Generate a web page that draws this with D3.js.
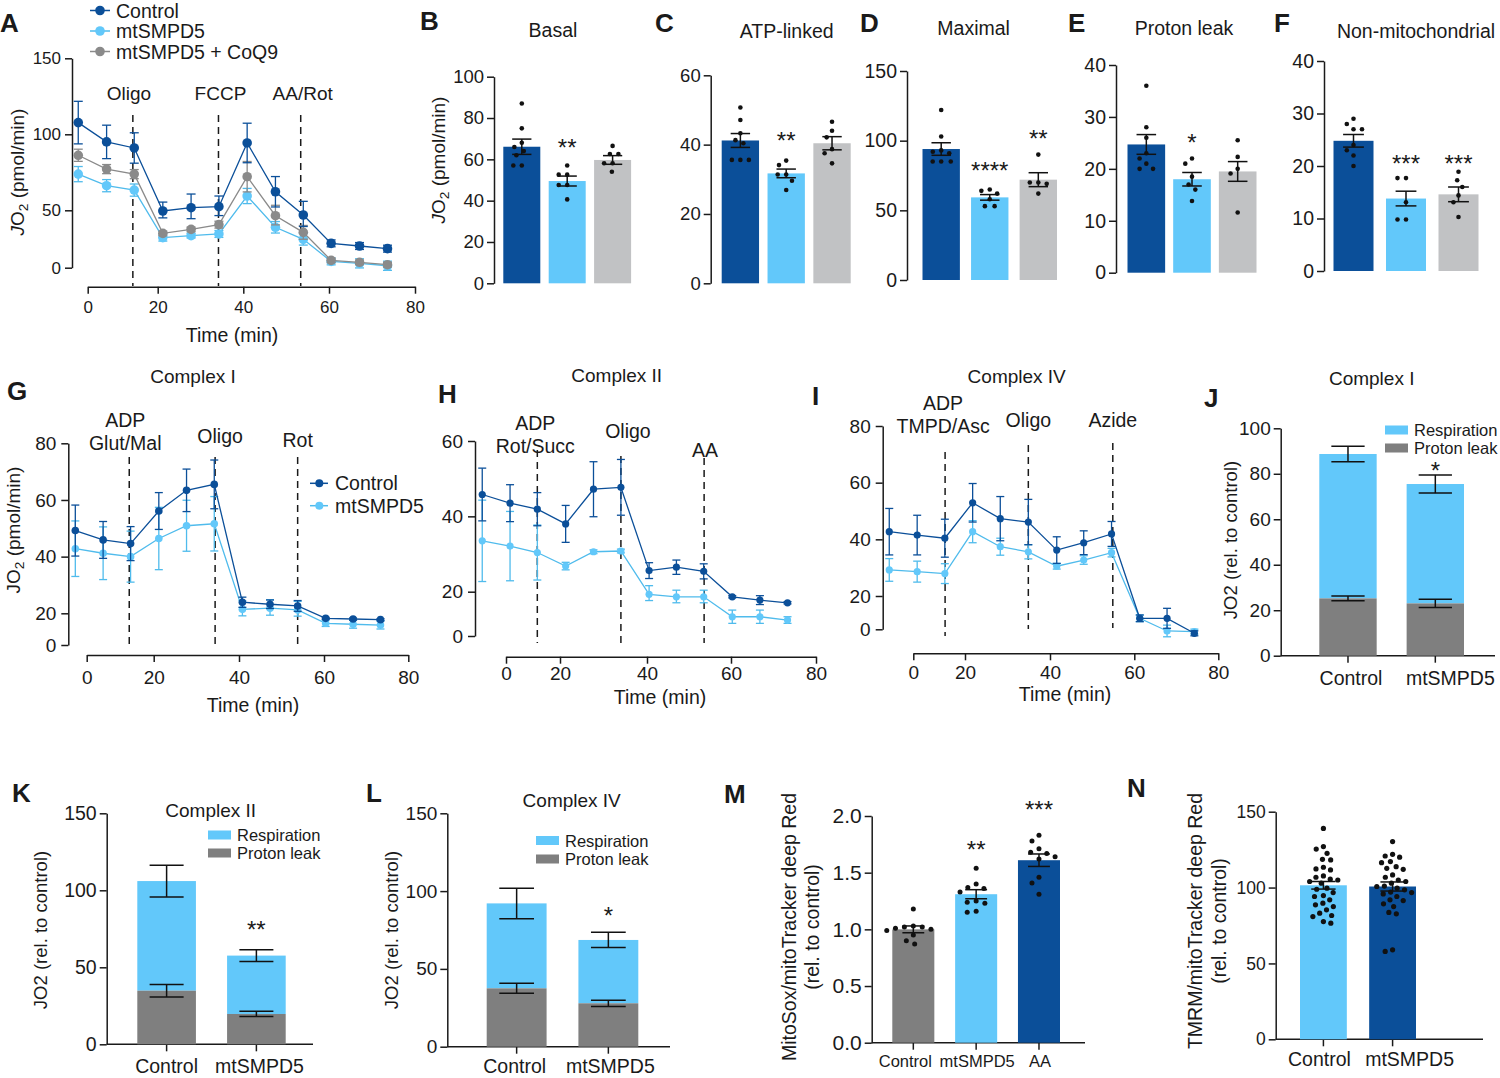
<!DOCTYPE html>
<html><head><meta charset="utf-8">
<script src="https://cdn.jsdelivr.net/npm/d3@7"></script>
<style>body{margin:0;background:#fff;} svg{display:block;}</style>
</head><body>
<script>
// ================= DATA =================
const names3 = ["Control", "mtSMPD5", "mtSMPD5 + CoQ9"];
const names2 = ["Control", "mtSMPD5"];
const stackNames = ["Respiration", "Proton leak"];
const groupsM = ["Control", "mtSMPD5", "AA"];
const timeTicks = [0, 20, 40, 60, 80];

// Panel A (Seahorse, whole cells)
const timeA = [-2.7, 5.4, 13.3, 21.2, 27.8, 34.3, 40.9, 47.5, 54.0, 60.5, 67.1, 73.6];
const A_ctrl = [107.7, 95.0, 91.0, 49.4, 51.7, 52.4, 94.3, 62.2, 45.9, 21.2, 18.9, 16.6];
const A_ctrl_err = [14, 11, 10, 6, 9, 7, 13, 10, 10, 3, 3, 3];
const A_mt = [73.8, 66.2, 63.3, 26.2, 27.9, 29.4, 59.4, 35.2, 24.7, 5.5, 3.8, 1.7];
const A_mt_err = [5, 4, 4, 3, 2, 3, 5, 5, 5, 3, 4, 4];
const A_coq = [86.2, 77.1, 73.8, 29.9, 33.4, 37.5, 72.1, 45.3, 30.8, 6.4, 4.7, 2.6];
const A_coq_err = [4, 3, 3, 2, 2, 3, 10, 8, 6, 2, 2, 2];
const injA = [12.9, 34.2, 53.4];
const injLabelsA = [["Oligo"], ["FCCP"], ["AA/Rot"]];
const yTicksA = [0, 50, 100, 150];

// Panels B-F
const titlesBF = ["Basal", "ATP-linked", "Maximal", "Proton leak", "Non-mitochondrial"];
const B_mean = [66.1, 49.5, 59.7], B_sem = [3.7, 2.4, 2.1];
const B_dots = [[87, 75, 68, 66, 64, 62, 57, 57], [57, 52.6, 52.6, 47.6, 47.6, 40.6], [66.5, 62.6, 62.6, 58.1, 58.1, 54]];
const B_sig = ["", "**", ""];
const C_mean = [41.2, 31.7, 40.4], C_sem = [2.0, 1.25, 1.9];
const C_dots = [[50.7, 47.1, 43.3, 41.3, 40.4, 35.6, 35.6, 35.6], [35.4, 34.1, 31.4, 31.4, 29.6, 26.9], [46.6, 44.0, 42.1, 38.7, 37.5, 34.6]];
const C_sig = ["", "**", ""];
const D_mean = [94, 59.3, 72], D_sem = [4.5, 2, 5];
const D_dots = [[122, 103, 93, 92, 91, 85, 85, 85], [65, 64, 62, 58, 53, 53], [90, 70, 70, 69, 62]];
const D_sig = ["", "****", "**"];
const E_mean = [24.7, 18.0, 19.5], E_sem = [1.9, 1.3, 1.9];
const E_dots = [[36, 28, 26, 23, 22, 21, 20, 20], [22, 21, 18.5, 17, 16, 13.8], [25.5, 22.3, 20, 19.1, 11.6]];
const E_sig = ["", "*", ""];
const F_mean = [24.8, 13.8, 14.6], F_sem = [1.2, 1.4, 1.4];
const F_dots = [[29, 28, 27, 27, 24, 23, 22, 20], [17.7, 17.7, 13.1, 9.8, 9.8], [18.9, 17.3, 16, 14.4, 13.1, 10.3]];
const F_sig = ["", "***", "***"];

// Panels G-I (permeabilized cells)
const timeG = [-3.4, 4.9, 13.1, 21.2, 27.7, 34.2, 40.8, 47.3, 53.8, 60.4, 66.9, 73.4];
const G_ctrl = [49.2, 45.9, 44.6, 56.1, 63.4, 65.5, 23.9, 23.2, 22.6, 16.8, 16.4, 16.0];
const G_ctrl_err = [9, 6.5, 6, 6.5, 7.5, 8.6, 1.8, 1.5, 1.9, 0.6, 0.6, 0.6];
const G_mt = [42.8, 41.2, 40.0, 46.4, 50.9, 51.6, 21.4, 21.8, 21.2, 13.7, 13.1, 12.6];
const G_mt_err = [9.8, 9.3, 9, 11, 9, 9.6, 3, 3, 3, 2, 2.5, 2.5];
const injG = [12.7, 34.4, 53.8];
const injLabelsG = [["ADP", "Glut/Mal"], ["Oligo"], ["Rot"]];

const timeH = [-8.8, 1.5, 11.6, 21.3, 27.7, 34.0, 40.5, 47.0, 53.5, 60.3, 66.8, 73.3];
const H_ctrl = [45.8, 43.5, 41.9, 38.0, 47.2, 47.7, 25.6, 26.5, 25.4, 17.7, 16.2, 15.0];
const H_ctrl_err = [7, 4.9, 4.4, 4.9, 7.3, 7.4, 2.1, 1.9, 2, 0.5, 2, 0.5];
const H_mt = [33.5, 32.1, 30.4, 26.8, 30.6, 30.8, 18.8, 17.7, 17.7, 8.7, 8.7, 7.2];
const H_mt_err = [10.8, 9.2, 7.3, 1, 0.5, 0.5, 2.8, 2.7, 2.7, 3, 3, 1.5];
const injH = [11.6, 34.0, 53.6];
const injLabelsH = [["ADP", "Rot/Succ"], ["Oligo"], ["AA"]];

const timeI = [-9.3, 1.5, 12.2, 21.8, 28.3, 34.9, 41.6, 48.0, 54.6, 61.3, 67.8, 74.3];
const I_ctrl = [42.7, 41.5, 40.4, 52.9, 47.3, 46.1, 36.2, 38.8, 41.9, 6.6, 6.6, -2.4];
const I_ctrl_err = [8.2, 7, 6.7, 6.8, 7.8, 8, 4.7, 4.2, 4.4, 2, 6, 1.5];
const I_mt = [29.2, 28.6, 27.9, 42.7, 37.4, 35.6, 30.5, 32.7, 35.3, 6.6, -1, -1.4];
const I_mt_err = [4, 3.7, 3.5, 3.9, 3, 2.5, 1, 1.5, 1.5, 2, 3.5, 1.5];
const injI = [12.3, 34.9, 54.9];
const injLabelsI = [["ADP", "TMPD/Asc"], ["Oligo"], ["Azide"]];

// Panels J-L (stacked)
const J_leak = [25.2, 23.0], J_leak_sem = [1, 1.8], J_total = [88.7, 75.5], J_total_sem = [3.4, 4];
const K_leak = [34.8, 19.7], K_leak_sem = [4.1, 1.7], K_total = [106, 57.6], K_total_sem = [10.3, 3.8];
const L_leak = [37.5, 27.9], L_leak_sem = [3.2, 2], L_total = [92.1, 68.6], L_total_sem = [9.8, 4.9];
const J_sig = ["", "*"], K_sig = ["", "**"], L_sig = ["", "*"];

// Panel M
const M_mean = [1.0, 1.31, 1.61], M_sem = [0.03, 0.04, 0.055];
const M_dots = [[1.18, 1.03, 1.02, 1.02, 1.01, 1.0, 0.99, 0.95, 0.9, 0.87],
                [1.54, 1.40, 1.37, 1.36, 1.33, 1.25, 1.24, 1.23, 1.16, 1.15],
                [1.83, 1.78, 1.71, 1.68, 1.67, 1.64, 1.62, 1.46, 1.41, 1.31]];
const M_sig = ["", "**", "***"];

// Panel N
const N_mean = [101.5, 100.7], N_sem = [2.5, 3];
const N_dots = [[139, 127, 125.4, 122.6, 118.6, 118.2, 113.4, 112.3, 111.6, 107.7, 106.8, 105.5, 105, 104, 102.9, 99.6, 98.9, 96.7, 94.7, 94.1, 91.9, 89.7, 88.6, 87.5, 85.3, 83.1, 81.6, 80.9, 77.6, 76.5],
                [130.3, 121.9, 120.8, 120, 117.1, 116.4, 113.8, 112.7, 112, 108.3, 106.8, 105, 104, 102.9, 101, 100.7, 99.6, 98.5, 97, 96.7, 95.8, 94.1, 91.9, 91.4, 89.3, 87.5, 83.6, 82.7, 59, 57.9]];

// ================= STYLE =================
const FONT = "'Liberation Sans', Arial, Helvetica, sans-serif";
const INK = "#1a1a1a";
const DARK = "#0b4f99", LIGHT = "#62c8fa", GREYBAR = "#c1c2c4", LEAK = "#7f7f7f", GREYPT = "#8a8a8a";
const LIGHTLINE = "#4fbbec";

const svg = d3.select("body").append("svg").attr("width", 1500).attr("height", 1078);
svg.append("rect").attr("width", 1500).attr("height", 1078).attr("fill", "#fff");

function txt(g, x, y, s, o = {}) {
  const t = g.append("text").attr("x", x).attr("y", y)
    .attr("font-family", FONT).attr("font-size", o.fs || 19).attr("fill", INK)
    .attr("text-anchor", o.anchor || "middle");
  if (o.weight) t.attr("font-weight", o.weight);
  t.text(s);
  return t;
}
function vlabel(g, cx, cy, parts, fs) {
  const t = g.append("text").attr("transform", `translate(${cx + fs * 0.36},${cy}) rotate(-90)`)
    .attr("text-anchor", "middle").attr("font-family", FONT).attr("font-size", fs).attr("fill", INK);
  parts.forEach(p => {
    const ts = t.append("tspan").text(p[0]);
    if (p[1] === "i") ts.attr("font-style", "italic");
    if (p[1] === "sub") ts.attr("font-size", fs * 0.72).attr("dy", fs * 0.22);
    if (p[1] === "unsub") ts.attr("dy", -fs * 0.22);
  });
  return t;
}
function styleAxis(sel, fs) {
  sel.select(".domain").attr("stroke", INK).attr("stroke-width", 1.5);
  sel.selectAll(".tick line").attr("stroke", INK).attr("stroke-width", 1.5);
  sel.selectAll(".tick text").attr("font-family", FONT).attr("font-size", fs).attr("fill", INK);
}
function panelLetter(x, y, s) { txt(svg, x, y, s, { fs: 26, weight: "bold", anchor: "start" }); }

function swarm(vals, yS, cx, sep) {
  const idx = vals.map((v, i) => i).sort((a, b) => vals[b] - vals[a]);
  const placed = [];
  idx.forEach(i => {
    const yy = yS(vals[i]);
    const near = placed.filter(p => Math.abs(p.y - yy) < sep);
    const cands = [cx];
    near.forEach(p => { const dx = Math.sqrt(sep * sep - (p.y - yy) ** 2); cands.push(p.x - dx, p.x + dx); });
    cands.sort((a, b) => Math.abs(a - cx) - Math.abs(b - cx));
    const ok = cands.find(c => near.every(p => (c - p.x) ** 2 + (p.y - yy) ** 2 >= sep * sep - 0.01));
    placed.push({ x: ok, y: yy });
  });
  return placed;
}

function errBar(g, x, y1, y2, half, color, w) {
  g.append("line").attr("x1", x).attr("x2", x).attr("y1", y1).attr("y2", y2).attr("stroke", color).attr("stroke-width", w);
  [y1, y2].forEach(yy => g.append("line").attr("x1", x - half).attr("x2", x + half).attr("y1", yy).attr("y2", yy).attr("stroke", color).attr("stroke-width", w));
}

// ================= LINE PANELS =================
function linePanel(o) {
  const g = svg.append("g");
  const x = d3.scaleLinear().domain(o.xDom).range(o.xRng);
  const y = d3.scaleLinear().domain(o.yDom).range(o.yRng);
  const ya = g.append("g").attr("transform", `translate(${o.yAxisX},0)`)
    .call(d3.axisLeft(y).tickValues(o.yTicks).tickSize(7).tickPadding(o.yPad).tickSizeOuter(0));
  styleAxis(ya, o.fs);
  const xa = g.append("g").attr("transform", `translate(0,${o.xAxisY})`)
    .call(d3.axisBottom(x).tickValues(timeTicks).tickSize(7).tickPadding(o.xPad).tickSizeOuter(0));
  styleAxis(xa, o.fs);
  o.inj.forEach((t, i) => {
    g.append("line").attr("x1", x(t)).attr("x2", x(t)).attr("y1", o.dashY[i][0]).attr("y2", o.dashY[i][1])
      .attr("stroke", INK).attr("stroke-width", 1.5).attr("stroke-dasharray", "7,5");
    o.injLabels[i].forEach((s, j) => txt(g, x(t) + o.lab[i].dx, o.lab[i].y[j], s, { fs: o.labFs }));
  });
  o.series.forEach(s => {
    const eg = g.append("g");
    s.t.forEach((t, i) => errBar(eg, x(t), y(s.v[i] - s.e[i]), y(s.v[i] + s.e[i]), o.cap, s.color, 1.3));
    g.append("path").datum(s.t.map((t, i) => [t, s.v[i]]))
      .attr("d", d3.line().x(d => x(d[0])).y(d => y(d[1])))
      .attr("fill", "none").attr("stroke", s.color).attr("stroke-width", 1.3);
    g.append("g").selectAll("circle").data(s.v).join("circle")
      .attr("cx", (d, i) => x(s.t[i])).attr("cy", d => y(d)).attr("r", o.r).attr("fill", s.fill || s.color);
  });
  txt(g, o.xTitle[0], o.xTitle[1], "Time (min)", { fs: 19.5 });
  return { g, x, y };
}

// A
linePanel({
  xDom: timeTicks, xRng: [87.7, 157.7, 243.3, 329, 415], yDom: [0, 50, 150], yRng: [267.7, 210.3, 58.3],
  yAxisX: 72, xAxisY: 286.7, yTicks: yTicksA, fs: 17, yPad: 4, xPad: 7,
  inj: injA, injLabels: injLabelsA, lab: [{ dx: -4, y: [100] }, { dx: 2, y: [100] }, { dx: 2, y: [100] }],
  dashY: [[115, 286], [115, 286], [115, 286]], labFs: 19, r: 4.8, cap: 4.5,
  series: [
    { t: timeA, v: A_mt, e: A_mt_err, color: LIGHTLINE, fill: LIGHT },
    { t: timeA, v: A_coq, e: A_coq_err, color: GREYPT },
    { t: timeA, v: A_ctrl, e: A_ctrl_err, color: DARK }],
  xTitle: [232, 342]
});
vlabel(svg, 17, 172, [["J", "i"], ["O"], ["2", "sub"], [" (pmol/min)", "unsub"]], 19);
[[DARK, DARK], [LIGHTLINE, LIGHT], [GREYPT, GREYPT]].forEach((c, i) => {
  const yy = [10.5, 31, 51.5][i];
  svg.append("line").attr("x1", 90).attr("x2", 110).attr("y1", yy).attr("y2", yy).attr("stroke", c[0]).attr("stroke-width", 1.5);
  svg.append("circle").attr("cx", 100).attr("cy", yy).attr("r", 4.8).attr("fill", c[1]);
  txt(svg, 116, yy + 7, names3[i], { fs: 19.5, anchor: "start" });
});
panelLetter(0, 32, "A");

// G
linePanel({
  xDom: timeTicks, xRng: [86.7, 153.7, 239, 324, 408.3], yDom: [0, 20, 80], yRng: [645, 613.3, 443.3],
  yAxisX: 68.3, xAxisY: 655, yTicks: [0, 20, 40, 60, 80], fs: 19, yPad: 5, xPad: 9,
  inj: injG, injLabels: injLabelsG, lab: [{ dx: -4, y: [426.7, 450] }, { dx: 5, y: [443] }, { dx: 0, y: [447] }],
  dashY: [[457, 645], [457, 645], [457, 645]], labFs: 19.5, r: 3.8, cap: 4,
  series: [
    { t: timeG, v: G_mt, e: G_mt_err, color: LIGHTLINE, fill: LIGHT },
    { t: timeG, v: G_ctrl, e: G_ctrl_err, color: DARK }],
  xTitle: [253, 712]
});
vlabel(svg, 13, 530, [["J"], ["O"], ["2", "sub"], [" (pmol/min)", "unsub"]], 19);
txt(svg, 193, 383, "Complex I", { fs: 19 });
[[DARK, DARK], [LIGHTLINE, LIGHT]].forEach((c, i) => {
  const yy = [483.3, 505.7][i];
  svg.append("line").attr("x1", 310).attr("x2", 328).attr("y1", yy).attr("y2", yy).attr("stroke", c[0]).attr("stroke-width", 1.5);
  svg.append("circle").attr("cx", 319.3).attr("cy", yy).attr("r", 4).attr("fill", c[1]);
  txt(svg, 335, yy + 7, names2[i], { fs: 19.5, anchor: "start" });
});
panelLetter(7, 400, "G");

// H
linePanel({
  xDom: timeTicks, xRng: [506, 560, 647, 731, 816], yDom: [0, 20, 60], yRng: [636, 591.7, 441],
  yAxisX: 475, xAxisY: 656.7, yTicks: [0, 20, 40, 60], fs: 19, yPad: 5, xPad: 3,
  inj: injH, injLabels: injLabelsH, lab: [{ dx: -2, y: [430, 452.7] }, { dx: 7, y: [438] }, { dx: 1, y: [456.7] }],
  dashY: [[450, 643], [456, 643], [458, 643]], labFs: 19.5, r: 3.6, cap: 4,
  series: [
    { t: timeH, v: H_mt, e: H_mt_err, color: LIGHTLINE, fill: LIGHT },
    { t: timeH, v: H_ctrl, e: H_ctrl_err, color: DARK }],
  xTitle: [660, 704]
});
txt(svg, 616.7, 381.7, "Complex II", { fs: 19 });
panelLetter(438, 403, "H");

// I
linePanel({
  xDom: timeTicks, xRng: [913.3, 965, 1050, 1134.3, 1218.3], yDom: [0, 20, 80], yRng: [629.3, 596, 426],
  yAxisX: 882.7, xAxisY: 653.3, yTicks: [0, 20, 40, 60, 80], fs: 19, yPad: 5, xPad: 5,
  inj: injI, injLabels: injLabelsI, lab: [{ dx: -2, y: [410, 432.7] }, { dx: 0, y: [426.7] }, { dx: 0, y: [426.7] }],
  dashY: [[452, 636], [445, 629], [443, 628]], labFs: 19.5, r: 3.6, cap: 4,
  series: [
    { t: timeI, v: I_mt, e: I_mt_err, color: LIGHTLINE, fill: LIGHT },
    { t: timeI, v: I_ctrl, e: I_ctrl_err, color: DARK }],
  xTitle: [1065, 701]
});
txt(svg, 1016.7, 383, "Complex IV", { fs: 19 });
panelLetter(812, 405, "I");

// ================= BAR PANELS =================
function shiftLabels(xa, dx) {
  xa.selectAll(".tick text").attr("dx", (d, i) => dx[i]);
}
function barPanel(o) {
  const g = svg.append("g");
  const y = d3.scaleLinear().domain(o.yDom).range(o.yRng);
  const x = d3.scaleBand().domain(o.cats).range(o.band).paddingInner(o.pad).paddingOuter(0);
  const ya = g.append("g").attr("transform", `translate(${o.axisX},0)`)
    .call(d3.axisLeft(y).tickValues(o.yTicks).tickSize(7).tickPadding(o.yPad ?? 3).tickSizeOuter(0).tickFormat(o.fmt || d3.format("d")));
  styleAxis(ya, o.fs);
  if (o.xEnd) {
    const xa = g.append("g").attr("transform", `translate(0,${y(0)})`)
      .call(d3.axisBottom(x).tickSize(7).tickPadding(o.xPad).tickSizeOuter(0));
    xa.select(".domain").remove();
    styleAxis(xa, o.xFs);
    if (o.labDx) shiftLabels(xa, o.labDx);
    xa.append("line").attr("x1", o.axisX).attr("x2", o.xEnd).attr("stroke", INK).attr("stroke-width", 1.5);
  }
  const bw = x.bandwidth();
  g.append("g").selectAll("rect").data(o.means).join("rect")
    .attr("x", (d, i) => x(o.cats[i])).attr("y", d => y(d)).attr("width", bw)
    .attr("height", d => y(o.yDom[0]) - y(d)).attr("fill", (d, i) => o.colors[i]);
  o.dots.forEach((arr, i) => {
    const pts = swarm(arr, y, x(o.cats[i]) + bw / 2, o.sep);
    g.append("g").selectAll("circle").data(pts).join("circle")
      .attr("cx", p => p.x).attr("cy", p => p.y).attr("r", o.dr).attr("fill", "#111");
  });
  o.means.forEach((m, i) => errBar(g, x(o.cats[i]) + bw / 2, y(m - o.sems[i]), y(m + o.sems[i]), bw * 0.26, "#111", 1.5));
  o.sig.forEach((s, i) => { if (s) txt(g, x(o.cats[i]) + bw / 2, o.sigY[i], s, { fs: 24 }); });
  return { g, x, y };
}

function stackPanel(o) {
  const g = svg.append("g");
  const y = d3.scaleLinear().domain([0, o.yMax]).range(o.yRng);
  const x = d3.scaleBand().domain(names2).range(o.band).paddingInner(o.pad).paddingOuter(0);
  const ya = g.append("g").attr("transform", `translate(${o.axisX},0)`)
    .call(d3.axisLeft(y).tickValues(o.yTicks).tickSize(7).tickPadding(3).tickSizeOuter(0));
  styleAxis(ya, o.fs);
  const xa = g.append("g").attr("transform", `translate(0,${y(0)})`)
    .call(d3.axisBottom(x).tickSize(7).tickPadding(o.xPad).tickSizeOuter(0));
  xa.select(".domain").remove();
  styleAxis(xa, 19.5);
  shiftLabels(xa, o.labDx);
  xa.append("line").attr("x1", o.axisX).attr("x2", o.xEnd).attr("stroke", INK).attr("stroke-width", 1.5);
  const bw = x.bandwidth();
  names2.forEach((n, i) => {
    g.append("rect").attr("x", x(n)).attr("width", bw).attr("y", y(o.total[i])).attr("height", y(o.leak[i]) - y(o.total[i])).attr("fill", LIGHT);
    g.append("rect").attr("x", x(n)).attr("width", bw).attr("y", y(o.leak[i])).attr("height", y(0) - y(o.leak[i])).attr("fill", LEAK);
  });
  names2.forEach((n, i) => {
    const cx = x(n) + bw / 2;
    errBar(g, cx, y(o.total[i] - o.totalSem[i]), y(o.total[i] + o.totalSem[i]), bw * 0.29, "#111", 1.5);
    errBar(g, cx, y(o.leak[i] - o.leakSem[i]), y(o.leak[i] + o.leakSem[i]), bw * 0.29, "#111", 1.5);
    if (o.sig[i]) txt(g, cx, o.sigY, o.sig[i], { fs: 24 });
  });
  [LIGHT, LEAK].forEach((c, i) => {
    const yy = o.leg[1] + i * o.leg[3];
    g.append("rect").attr("x", o.leg[0]).attr("y", yy - 4.5).attr("width", 23).attr("height", 9).attr("fill", c);
    txt(g, o.leg[0] + o.leg[2], yy + 6, stackNames[i], { fs: 16.5, anchor: "start" });
  });
  vlabel(g, o.yLab[0], o.yLab[1], [["JO2 (rel. to control)"]], 18.5);
  txt(g, o.title[0], o.title[1], o.titleText, { fs: 19 });
}

const colors3 = [DARK, LIGHT, GREYBAR];
// B
barPanel({ cats: names3, means: B_mean, sems: B_sem, dots: B_dots, colors: colors3, yDom: [0, 100], yRng: [283.3, 76.7],
  yTicks: [0, 20, 40, 60, 80, 100], axisX: 494, band: [503.3, 631.1], pad: 0.185, fs: 18.5, sep: 8.5, dr: 2.3,
  sig: B_sig, sigY: [0, 156, 0] });
vlabel(svg, 438, 160, [["J", "i"], ["O"], ["2", "sub"], [" (pmol/min)", "unsub"]], 19);
txt(svg, 553, 37, titlesBF[0], { fs: 19.5 });
panelLetter(420, 30, "B");
// C
barPanel({ cats: names3, means: C_mean, sems: C_sem, dots: C_dots, colors: colors3, yDom: [0, 60], yRng: [283.3, 75.3],
  yTicks: [0, 20, 40, 60], axisX: 710.7, band: [721.7, 850.7], pad: 0.185, fs: 18.5, sep: 8.5, dr: 2.3,
  sig: C_sig, sigY: [0, 149, 0] });
txt(svg, 786.7, 38, titlesBF[1], { fs: 19.5 });
panelLetter(655, 32, "C");
// D
barPanel({ cats: names3, means: D_mean, sems: D_sem, dots: D_dots, colors: colors3, yDom: [0, 150], yRng: [280, 71],
  yTicks: [0, 50, 100, 150], axisX: 907, band: [922.5, 1057], pad: 0.23, fs: 19.5, sep: 8.5, dr: 2.3,
  sig: D_sig, sigY: [0, 179, 147] });
txt(svg, 973.6, 35, titlesBF[2], { fs: 19.5 });
panelLetter(860, 32, "D");
// E
barPanel({ cats: names3, means: E_mean, sems: E_sem, dots: E_dots, colors: colors3, yDom: [0, 40], yRng: [272.7, 65],
  yTicks: [0, 10, 20, 30, 40], axisX: 1116, band: [1127.5, 1256.5], pad: 0.176, fs: 19.5, sep: 8.5, dr: 2.3,
  sig: E_sig, sigY: [0, 151, 0] });
txt(svg, 1184, 35, titlesBF[3], { fs: 19.5 });
panelLetter(1068, 32, "E");
// F
barPanel({ cats: names3, means: F_mean, sems: F_sem, dots: F_dots, colors: colors3, yDom: [0, 40], yRng: [271, 61],
  yTicks: [0, 10, 20, 30, 40], axisX: 1324, band: [1333.5, 1478.5], pad: 0.238, fs: 19.5, sep: 8.5, dr: 2.3,
  sig: F_sig, sigY: [0, 172, 172] });
txt(svg, 1416, 38, titlesBF[4], { fs: 19.5 });
panelLetter(1274, 32, "F");

// J K L
stackPanel({ yMax: 100, yRng: [655.7, 428.3], yTicks: [0, 20, 40, 60, 80, 100], axisX: 1280.7, band: [1319.3, 1464], pad: 0.343,
  xEnd: 1495, fs: 19, xPad: 8, labDx: [3, 15], leak: J_leak, leakSem: J_leak_sem, total: J_total, totalSem: J_total_sem,
  sig: J_sig, sigY: 479, leg: [1385, 430, 29, 18], yLab: [1230, 540], title: [1371.7, 385], titleText: "Complex I" });
panelLetter(1204, 407, "J");
stackPanel({ yMax: 150, yRng: [1044.3, 813.3], yTicks: [0, 50, 100, 150], axisX: 106.7, band: [137.3, 285.7], pad: 0.347,
  xEnd: 313, fs: 19.5, xPad: 7.5, labDx: [0, 3], leak: K_leak, leakSem: K_leak_sem, total: K_total, totalSem: K_total_sem,
  sig: K_sig, sigY: 938, leg: [208, 835, 29, 18], yLab: [40, 930], title: [210.7, 816.7], titleText: "Complex II" });
panelLetter(12, 802, "K");
stackPanel({ yMax: 150, yRng: [1046.7, 813.3], yTicks: [0, 50, 100, 150], axisX: 447.3, band: [486.7, 638.3], pad: 0.347,
  xEnd: 670, fs: 19, xPad: 5.5, labDx: [-2, 2], leak: L_leak, leakSem: L_leak_sem, total: L_total, totalSem: L_total_sem,
  sig: L_sig, sigY: 924, leg: [536, 840.5, 29, 18.5], yLab: [391.7, 930], title: [571.7, 806.7], titleText: "Complex IV" });
panelLetter(366, 802, "L");

// M
barPanel({ cats: groupsM, means: M_mean, sems: M_sem, dots: M_dots, colors: [LEAK, LIGHT, DARK], yDom: [0, 2], yRng: [1042.7, 816],
  yTicks: [0, 0.5, 1, 1.5, 2], fmt: d3.format(".1f"), axisX: 871.7, band: [892.3, 1060], pad: 0.331, fs: 21, sep: 9, dr: 2.5,
  sig: M_sig, sigY: [0, 858, 818], xEnd: 1085, xPad: 6, xFs: 16.5, labDx: [-8, 1, 1] });
vlabel(svg, 789, 927, [["MitoSox/mitoTracker deep Red"]], 19.5);
vlabel(svg, 812, 927, [["(rel. to control)"]], 19.5);
panelLetter(724, 803, "M");

// N
barPanel({ cats: names2, means: N_mean, sems: N_sem, dots: N_dots, colors: [LIGHT, DARK], yDom: [0, 150], yRng: [1039.3, 811.7],
  yTicks: [0, 50, 100, 150], axisX: 1275.7, band: [1300, 1416], pad: 0.323, fs: 17.5, sep: 7.6, dr: 2.6,
  sig: ["", ""], sigY: [0, 0], xEnd: 1483, xPad: 6, xFs: 19.5, labDx: [-4, 17] });
vlabel(svg, 1195, 921, [["TMRM/mitoTracker deep Red"]], 19.5);
vlabel(svg, 1219, 921, [["(rel. to control)"]], 19.5);
panelLetter(1127, 797, "N");
</script>
</body></html>
